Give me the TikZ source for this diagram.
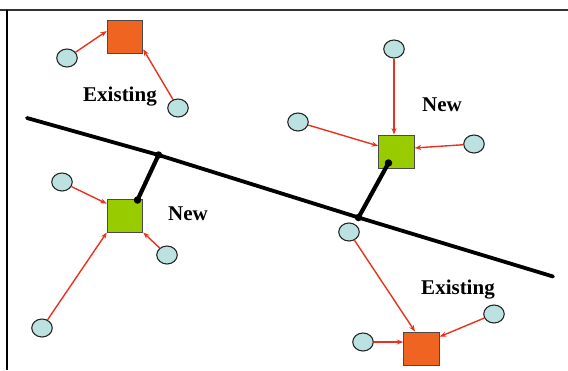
\documentclass[tikz,border=0pt]{standalone}
\usepackage{fontspec}
\setmainfont{Liberation Serif}
\usetikzlibrary{arrows.meta,shapes.geometric}

\definecolor{siteorange}{HTML}{EF6420}
\definecolor{sitegreen}{HTML}{99CC00}
\definecolor{custfill}{HTML}{BCE1E1}
\definecolor{linkred}{HTML}{E8321E}
\definecolor{boxedge}{HTML}{4A4A4A}

\tikzset{
  site/.style={draw=boxedge, line width=1pt, inner sep=0pt,
    minimum width=35.5pt, minimum height=33pt},
  existing/.style={site, fill=siteorange},
  planned/.style={site, fill=sitegreen},
  customer/.style={ellipse, draw=black!85, line width=1.1pt, fill=custfill,
    inner sep=0pt, minimum width=20.5pt, minimum height=18pt},
  demand/.style={draw=linkred, line width=1.4pt,
    -{Stealth[length=6.5pt,width=5pt]}},
  tag/.style={anchor=base, inner sep=0pt,
    font=\fontsize{21}{25}\selectfont\bfseries},
  route/.style={line width=3.8pt, line cap=round, line join=round},
  spur/.style={line width=4.2pt, line cap=round},
  joint/.style={circle, fill=black, inner sep=0pt, minimum size=7.5pt},
}

\begin{document}
\begin{tikzpicture}[x=1pt, y=-1pt]
  \useasboundingbox (0,0) rectangle (568,370);

  % frame
  \draw[line width=2pt, black!80] (0,9.5) -- (568,9.5);
  \draw[line width=1.1pt] (7,9.5) -- (7,370);

  % facilities
  \node[existing] (A) at (125,37) {};
  \node[planned]  (B) at (125,215.5) {};
  \node[planned]  (C) at (396.5,151.5) {};
  \node[existing] (D) at (421.5,348.5) {};

  % customers
  \node[customer] (a1) at (67,58) {};
  \node[customer] (a2) at (178,108) {};
  \node[customer] (b1) at (62,182) {};
  \node[customer] (b2) at (167,255) {};
  \node[customer] (b3) at (42,328) {};
  \node[customer] (c1) at (394,49) {};
  \node[customer] (c2) at (298,122) {};
  \node[customer] (c3) at (474,144) {};
  \node[customer] (d1) at (349,232) {};
  \node[customer] (d2) at (363,342) {};
  \node[customer] (d3) at (494,314) {};

  % labels
  \node[tag] (tA) at (120,101) {Existing};
  \node[tag] (tB) at (188,220) {New};
  \node[tag] (tC) at (442,111) {New};
  \node[tag] (tD) at (458,294) {Existing};

  % assignments
  \draw[demand] (a1) -- (A.162);
  \draw[demand] (a2) -- (A.-34);
  \draw[demand] (b1) -- (B.147);
  \draw[demand] (b2) -- (B.south east);
  \draw[demand] (b3) -- (B.south west);
  \draw[demand] (c1) -- (c1 |- C.north);
  \draw[demand] (c2) -- (C.163);
  \draw[demand] (c3) -- (C.11);
  \draw[demand] (d1) -- (D.111);
  \draw[demand] (d2) -- (d2 -| D.west);
  \draw[demand] (d3) -- (D.33);

  % main route and access links
  \coordinate (r0) at (27,118);
  \coordinate (j1) at (158.5,155);
  \coordinate (j2) at (358.5,217.5);
  \coordinate (r1) at (553,276.5);
  \coordinate (k1) at (137.5,200);
  \coordinate (k2) at (388.5,163);
  \draw[route] (r0) -- (j1) -- (j2) -- (r1);
  \draw[spur] (j1) -- (k1);
  \draw[spur] (j2) -- (k2);
  \node[joint] (p1) at (j1) {};
  \node[joint] (p2) at (j2) {};
  \node[joint] (q1) at (k1) {};
  \node[joint] (q2) at (k2) {};
\end{tikzpicture}
\end{document}
